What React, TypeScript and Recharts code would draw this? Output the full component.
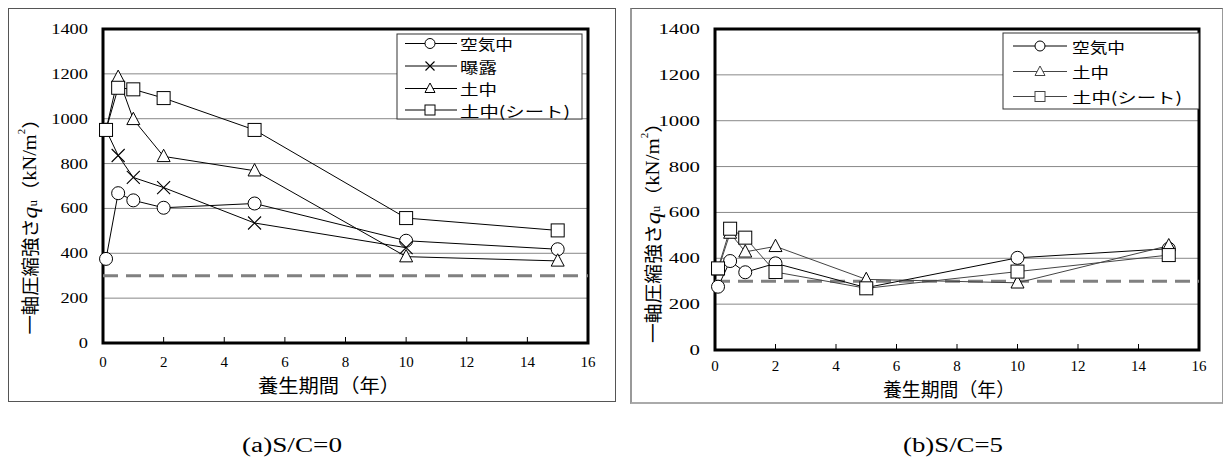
import React from 'react';
import { LineChart, Line, XAxis, YAxis, CartesianGrid, ReferenceLine, ReferenceArea } from 'recharts';

// curing period (years)
const years = [0.1, 0.5, 1, 2, 5, 10, 15];
const yearsExposed = [0.1, 0.5, 1, 2, 5, 10];

// (a) S/C=0  unconfined compressive strength qu (kN/m2)
const airA = [375, 668, 636, 603, 622, 456, 418];
const exposedA = [950, 836, 738, 693, 535, 425];
const soilA = [950, 1185, 997, 832, 768, 385, 366];
const sheetA = [950, 1138, 1131, 1092, 950, 557, 502];

// (b) S/C=5
const airB = [276, 388, 339, 378, 272, 402, 442];
const soilB = [350, 510, 428, 452, 308, 293, 455];
const sheetB = [356, 529, 490, 340, 269, 342, 414];

const xTicks = [0, 2, 4, 6, 8, 10, 12, 14, 16];
const yTicks = [0, 200, 400, 600, 800, 1000, 1200, 1400];
const targetStrength = 300;

const SERIF = 'Liberation Serif, Times New Roman, serif';
const CJK = 'Noto Sans CJK JP, Noto Sans, sans-serif';

type Shape = 'circle' | 'cross' | 'triangle' | 'square';

interface Series {
  name: string;
  shape: Shape;
  xs: number[];
  ys: number[];
  stroke: string;
  textWidth: number;
}

const toPoints = (xs: number[], ys: number[]) => xs.map((x, i) => ({ x, y: ys[i] }));

const Marker = ({ shape, cx, cy, size = 13, stroke = '#000' }: any) => {
  const h = size / 2;
  switch (shape) {
    case 'circle':
      return <circle cx={cx} cy={cy} r={h} fill="#fff" stroke={stroke} strokeWidth={1} />;
    case 'cross':
      return (
        <path
          d={`M${cx - h},${cy - h}L${cx + h},${cy + h}M${cx - h},${cy + h}L${cx + h},${cy - h}`}
          stroke={stroke}
          strokeWidth={1.1}
          fill="none"
        />
      );
    case 'triangle':
      return (
        <polygon
          points={`${cx},${cy - h * 1.1} ${cx + h},${cy + h * 0.8} ${cx - h},${cy + h * 0.8}`}
          fill="#fff"
          stroke={stroke}
          strokeWidth={1}
        />
      );
    default:
      return <rect x={cx - h} y={cy - h} width={size} height={size} fill="#fff" stroke={stroke} strokeWidth={1} />;
  }
};

const seriesA: Series[] = [
  { name: '空気中', shape: 'circle', xs: years, ys: airA, stroke: '#000', textWidth: 53 },
  { name: '曝露', shape: 'cross', xs: yearsExposed, ys: exposedA, stroke: '#000', textWidth: 37 },
  { name: '土中', shape: 'triangle', xs: years, ys: soilA, stroke: '#000', textWidth: 37 },
  { name: '土中(シート)', shape: 'square', xs: years, ys: sheetA, stroke: '#000', textWidth: 110 },
];

const seriesB: Series[] = [
  { name: '空気中', shape: 'circle', xs: years, ys: airB, stroke: '#000', textWidth: 53 },
  { name: '土中', shape: 'triangle', xs: years, ys: soilB, stroke: '#444', textWidth: 37 },
  { name: '土中(シート)', shape: 'square', xs: years, ys: sheetB, stroke: '#444', textWidth: 110 },
];

interface PanelProps {
  series: Series[];
  width: number;
  height: number;
  margin: { top: number; right: number; left: number; bottom: number };
  digitWidth: number;
  xLabelGap: number;
}

const serifStyle = { fontFamily: SERIF, fontWeight: 400 } as const;
const cjkStyle = { fontFamily: CJK, fontWeight: 400 } as const;

const StrengthChart = ({ series, width, height, margin, digitWidth, xLabelGap }: PanelProps) => {
  const XTick = ({ x, y, payload }: any) => {
    const v = payload.value;
    return (
      <g>
        {v !== 0 && v !== 16 && <line x1={x} x2={x} y1={y} y2={y - 6} stroke="#000" strokeWidth={1} />}
        <text x={x} y={y + xLabelGap} textAnchor="middle" dominantBaseline="central" style={serifStyle} fontSize={15} fill="#000">
          {v}
        </text>
      </g>
    );
  };

  const YTick = ({ x, y, payload }: any) => {
    const s = String(payload.value);
    return (
      <text
        x={x - 15}
        y={y}
        textAnchor="end"
        dominantBaseline="central"
        style={serifStyle}
        fontSize={15}
        fill="#000"
        textLength={s.length * digitWidth}
        lengthAdjust="spacingAndGlyphs"
      >
        {s}
      </text>
    );
  };

  return (
    <LineChart width={width} height={height} margin={margin}>
      <CartesianGrid horizontal vertical={false} stroke="#888" strokeWidth={1} />
      <XAxis
        type="number"
        dataKey="x"
        domain={[0, 16]}
        ticks={xTicks}
        interval={0}
        height={30}
        axisLine={false}
        tickLine={false}
        tickSize={0}
        tickMargin={0}
        tick={<XTick />}
      />
      <YAxis
        type="number"
        dataKey="y"
        domain={[0, 1400]}
        ticks={yTicks}
        interval={0}
        width={60}
        axisLine={false}
        tickLine={false}
        tickSize={0}
        tickMargin={0}
        tick={<YTick />}
      />
      <ReferenceLine y={targetStrength} stroke="#808080" strokeWidth={3} strokeDasharray="15 8" />
      {series.map((s) => (
        <Line
          key={s.name}
          data={toPoints(s.xs, s.ys)}
          dataKey="y"
          name={s.name}
          stroke={s.stroke}
          strokeWidth={1}
          isAnimationActive={false}
          activeDot={false}
          dot={(p: any) => <Marker key={`${s.name}-${p.index}`} shape={s.shape} cx={p.cx} cy={p.cy} />}
        />
      ))}
      <ReferenceArea x1={0} x2={16} y1={0} y2={1400} fill="none" stroke="#000" strokeWidth={3} />
    </LineChart>
  );
};

const LegendBox = ({ series, box, rows, lineX, markerX, textX }: any) => (
  <g>
    <rect x={box[0]} y={box[1]} width={box[2] - box[0]} height={box[3] - box[1]} fill="#fff" stroke="#333" strokeWidth={1} />
    {series.map((s: Series, i: number) => (
      <g key={s.name}>
        <line x1={lineX[0]} x2={lineX[1]} y1={rows[i]} y2={rows[i]} stroke={s.stroke} strokeWidth={1} />
        <Marker shape={s.shape} cx={markerX} cy={rows[i]} size={s.shape === 'cross' ? 9 : 10} stroke={s.stroke} />
        <text
          x={textX}
          y={rows[i]}
          dominantBaseline="central"
          style={cjkStyle}
          fontSize={15}
          fill="#000"
          textLength={s.textWidth}
          lengthAdjust="spacingAndGlyphs"
        >
          {s.name}
        </text>
      </g>
    ))}
  </g>
);

const YLabel = ({ cx, cy, length }: any) => (
  <text
    transform={`translate(${cx},${cy}) rotate(-90)`}
    textAnchor="middle"
    dominantBaseline="central"
    fontSize={18}
    fill="#000"
    textLength={length}
    lengthAdjust="spacingAndGlyphs"
  >
    <tspan style={cjkStyle}>一軸圧縮強さ</tspan>
    <tspan style={{ ...serifStyle, fontStyle: 'italic' }} fontSize={22}>q</tspan>
    <tspan style={serifStyle} fontSize={12} dy={4}>u</tspan>
    <tspan style={cjkStyle} dy={-4}>（</tspan>
    <tspan style={serifStyle} fontSize={19}>kN/m</tspan>
    <tspan style={serifStyle} fontSize={10} dy={-8}>2</tspan>
    <tspan style={cjkStyle} dy={8}>）</tspan>
  </text>
);

const XLabel = ({ cx, cy, length }: any) => (
  <text
    x={cx}
    y={cy}
    textAnchor="middle"
    dominantBaseline="central"
    style={cjkStyle}
    fontSize={19}
    fill="#000"
    textLength={length}
    lengthAdjust="spacingAndGlyphs"
  >
    養生期間（年）
  </text>
);

export default function App() {
  return (
    <div style={{ position: 'absolute', left: 0, top: 0, width: 1225, height: 459, background: '#fff', overflow: 'hidden' }}>
      <div style={{ position: 'absolute', left: 8, top: 8, width: 608, height: 394, boxSizing: 'border-box', border: '1px solid #555' }} />
      <div
        style={{
          position: 'absolute',
          left: 630,
          top: 8,
          width: 593,
          height: 396,
          boxSizing: 'border-box',
          borderTop: '1px solid #666',
          borderLeft: '2px solid #999',
          borderRight: '1px solid #999',
          borderBottom: '2px solid #aaa',
        }}
      />
      <div style={{ position: 'absolute', left: 0, top: 0 }}>
        <StrengthChart
          series={seriesA}
          width={615}
          height={405}
          margin={{ top: 29, right: 27, left: 43, bottom: 32 }}
          digitWidth={9.2}
          xLabelGap={19}
        />
      </div>
      <div style={{ position: 'absolute', left: 615, top: 0 }}>
        <StrengthChart
          series={seriesB}
          width={610}
          height={410}
          margin={{ top: 29, right: 26, left: 40, bottom: 30 }}
          digitWidth={10.4}
          xLabelGap={16}
        />
      </div>
      <svg width={1225} height={459} style={{ position: 'absolute', left: 0, top: 0, pointerEvents: 'none' }}>
        <LegendBox
          series={seriesA}
          box={[397, 34, 582, 119]}
          rows={[43.5, 66, 88.5, 110]}
          lineX={[405, 457]}
          markerX={430}
          textX={460}
        />
        <LegendBox
          series={seriesB}
          box={[1003, 33, 1199, 109]}
          rows={[46, 71.5, 96.5]}
          lineX={[1013, 1067]}
          markerX={1040}
          textX={1072}
        />
        <YLabel cx={29} cy={222} length={225} />
        <YLabel cx={652} cy={228} length={230} />
        <XLabel cx={329} cy={384} length={142} />
        <XLabel cx={949} cy={388} length={132} />
        <text x={292} y={452} textAnchor="middle" style={serifStyle} fontSize={20} fill="#000" textLength={100} lengthAdjust="spacingAndGlyphs">
          (a)S/C=0
        </text>
        <text x={953} y={452} textAnchor="middle" style={serifStyle} fontSize={20} fill="#000" textLength={100} lengthAdjust="spacingAndGlyphs">
          (b)S/C=5
        </text>
      </svg>
    </div>
  );
}
